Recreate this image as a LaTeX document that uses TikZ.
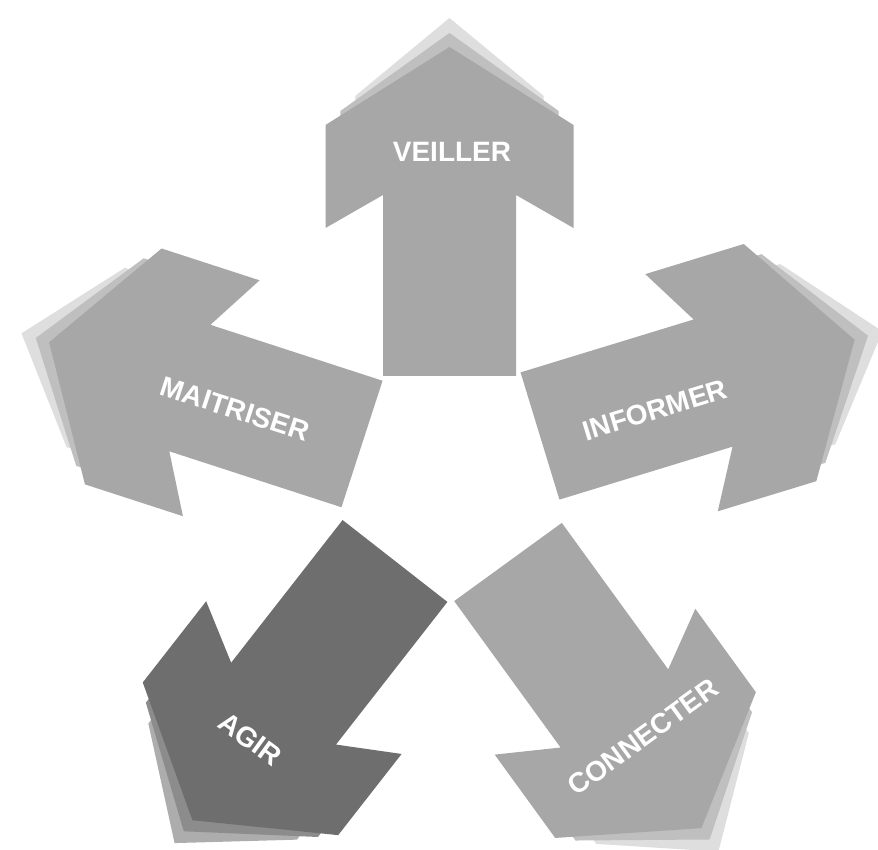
\documentclass[tikz,border=0pt]{standalone}
\usepackage{fontspec}
\setmainfont{Liberation Sans}
\definecolor{lightmain}{gray}{0.655}
\definecolor{lightone}{gray}{0.75}
\definecolor{lighttwo}{gray}{0.87}
\definecolor{darkmain}{gray}{0.43}
\definecolor{darkone}{gray}{0.55}
\definecolor{darktwo}{gray}{0.68}
\def\arrowpath{(-66.5,0) -- (66.5,0) -- (66.5,181) -- (124,148) -- (124,251) -- (0,329) -- (-124,251) -- (-124,148) -- (-66.5,181) -- cycle}
\newcommand\starrow[4]{%
  \begin{scope}[shift={(#1,#2)}, rotate=#3]
    \fill[#4two, yshift=29, xscale=0.76] \arrowpath;
    \fill[#4one, yshift=14, xscale=0.88] \arrowpath;
    \fill[#4main] \arrowpath;
  \end{scope}}
\tikzset{lbl/.style={text=white, font=\bfseries\fontsize{28}{30}\selectfont, inner sep=0pt}}
\begin{document}
\begin{tikzpicture}[x=1pt, y=1pt]
\useasboundingbox (0,0) rectangle (878,850);
\fill[white] (0,0) rectangle (878,850);
\starrow{449.5}{474}{0}{light}
\starrow{540}{414}{-73}{light}
\starrow{508}{288}{-144}{light}
\starrow{395}{289}{142}{dark}
\starrow{362}{406}{72}{light}
\node[lbl] (veiller) at (452,698) {VEILLER};
\node[lbl, rotate=17] (informer) at (655,440) {INFORMER};
\node[lbl, rotate=36] (connecter) at (643,113) {CONNECTER};
\node[lbl, rotate=-36] (agir) at (250,111) {AGIR};
\node[lbl, rotate=-18] (maitriser) at (235,441) {MAITRISER};
\end{tikzpicture}
\end{document}
